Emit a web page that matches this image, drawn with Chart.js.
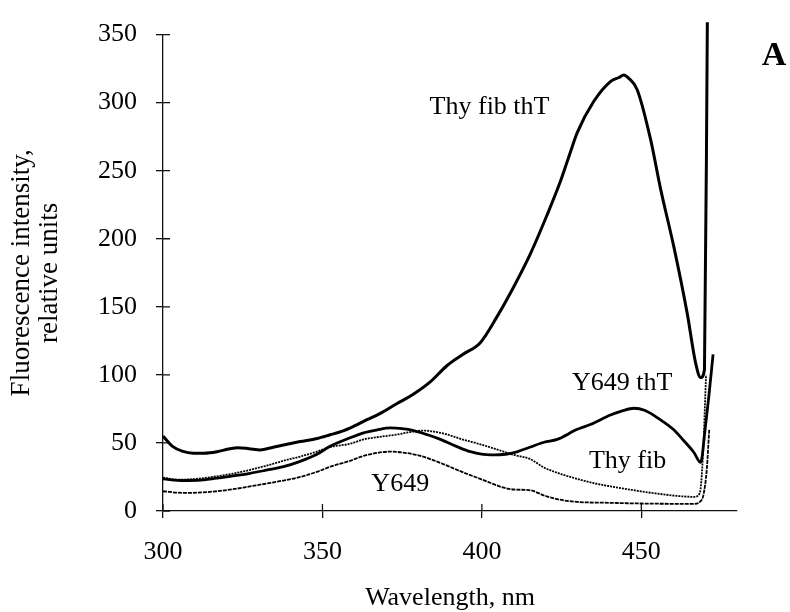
<!DOCTYPE html>
<html>
<head>
<meta charset="utf-8">
<script src="https://cdn.jsdelivr.net/npm/chart.js@4.4.1/dist/chart.umd.min.js"></script>
<style>
  html, body { margin: 0; padding: 0; background: #fff; }
  canvas { display: block; }
</style>
</head>
<body>
<canvas id="myChart" width="790" height="612"></canvas>
<script>
// wavelength (nm), intensity (relative units)
const THY_FIB_THT = [
    [300, 55], [303, 47.5], [306, 44], [309.5, 42.5], [313, 42.5], [317, 43.6],
    [320.5, 45.5], [323.6, 46.5], [327, 45.8], [330.5, 44.9], [334, 46.5],
    [337.8, 48.5], [343, 51], [348.3, 53.3], [352.4, 56], [356, 58.5], [360, 62.5],
    [362.9, 65.8], [368, 71.5], [373.4, 79], [378, 85], [383.8, 94.8], [389.1, 106.9],
    [394, 115], [399.5, 123.7], [404.8, 143], [410, 164.8], [415.2, 188.9],
    [420.5, 217.8], [424.6, 242], [427.8, 264], [429.9, 278], [435.1, 301],
    [440.3, 315.5], [443, 318.5], [444.5, 320.3], [446, 318], [448.7, 309.5],
    [452.9, 273], [456, 237], [460.2, 194], [464.4, 145], [467, 109], [468.6, 98],
    [469.8, 104], [470.7, 359]
];
const Y649_THT = [
    [300, 23.6], [306.3, 22.4], [311, 22.5], [316.9, 24.1], [322, 25.8], [327.3, 27.7],
    [332, 29.8], [337.8, 32.6], [343, 36.5], [348.3, 41.7], [352.4, 47.5], [358.7, 53.8],
    [362.9, 57.4], [367, 59.5], [371.3, 61], [375, 60.5], [378.6, 59.1], [383, 56],
    [387, 52.6], [392, 47.5], [396.4, 43.6], [402.7, 41.2], [407.4, 41.7], [411, 43.5],
    [415.2, 47], [419.5, 50.5], [423.6, 52.6], [429.9, 60], [434, 63.5], [440.3, 70.5],
    [444, 73.5], [447.7, 75.5], [451, 74], [456, 67], [460, 60], [463.4, 51.4],
    [466.5, 43], [468.6, 35.7], [470, 60], [471.2, 85], [472.5, 115]
];
const THY_FIB = [
    [300, 24.5], [305, 23], [310, 23.5], [316.9, 25.5], [322, 27.5], [327.3, 30.2],
    [332, 33], [337.8, 36.9], [343, 40], [348.3, 43.6], [352.4, 47], [358.7, 49.4],
    [362.9, 52.6], [368, 54.5], [373.4, 56.2], [378, 58.2], [381.5, 59.1], [385, 58.3],
    [389.1, 56.2], [394, 52.5], [399.5, 49], [406.9, 43.6], [410, 41.2], [415.2, 38.1],
    [419.4, 32], [425, 27], [429.9, 23.6], [435, 20.5], [440.3, 18.1], [447, 15.5],
    [451, 14], [456, 12.5], [461, 11.1], [466.5, 10.4], [468.3, 13], [469.3, 40],
    [470.3, 100]
];
const Y649 = [
    [300, 14.5], [306.3, 13.3], [311, 13.5], [316.9, 14.5], [322, 16], [327.3, 18.1],
    [332, 20], [337.8, 22.4], [343, 25], [348.3, 28.8], [352.4, 32.5], [358.7, 36.9],
    [362.9, 40.5], [368, 43], [371.3, 43.6], [375, 43], [379.6, 41.2], [384, 38],
    [389.1, 33.3], [394, 28.5], [399.5, 23.6], [406.9, 17.1], [410, 15.8], [415.2, 15.2],
    [419.4, 11.5], [424, 8.5], [429.9, 6.7], [440.3, 6], [450, 5.5], [460, 5.3],
    [466.5, 5.3], [468.5, 7], [469.5, 12], [470.5, 30], [471.3, 60]
];

const X_TICKS = [300, 350, 400, 450];
const Y_TICKS = [0, 50, 100, 150, 200, 250, 300, 350];

// curve labels, anchored in data units (centre x, baseline y)
const LABELS = [
    ["Thy fib thT", 402.4, 291.5],
    ["Y649 thT", 444, 89],
    ["Thy fib", 445.7, 31.5],
    ["Y649", 374.4, 14.5],
];

const SERIF = '"Liberation Serif", "Times New Roman", serif';

function toXY(arr) {
    return arr.map(p => ({x: p[0], y: p[1]}));
}

const innerTicks = {
    id: 'innerTicks',
    afterDraw(chart) {
        const {ctx, chartArea, scales} = chart;
        ctx.save();
        ctx.strokeStyle = '#111';
        ctx.lineWidth = 1.3;
        ctx.beginPath();
        for (let v of X_TICKS) {
            let px = scales.x.getPixelForValue(v);
            ctx.moveTo(px, chartArea.bottom);
            ctx.lineTo(px, chartArea.bottom - 7);
        }
        for (let v of Y_TICKS) {
            let py = scales.y.getPixelForValue(v);
            ctx.moveTo(chartArea.left, py);
            ctx.lineTo(chartArea.left + 7, py);
        }
        ctx.stroke();

        ctx.fillStyle = '#000';
        ctx.font = '26px ' + SERIF;
        ctx.textAlign = 'center';
        ctx.textBaseline = 'alphabetic';
        for (let [text, x, y] of LABELS) {
            ctx.fillText(text, scales.x.getPixelForValue(x), scales.y.getPixelForValue(y));
        }

        ctx.font = 'bold 34px ' + SERIF;
        ctx.fillText("A", chartArea.right + 37, chartArea.top + 30);
        ctx.restore();
    }
};

function line(data, width, dash) {
    return {
        data: toXY(data),
        borderColor: '#000',
        borderWidth: width,
        borderDash: dash,
        pointRadius: 0,
        fill: false,
        tension: 0.3,
        cubicInterpolationMode: 'monotone',
    };
}

const datasets = [
    Object.assign(line(THY_FIB_THT, 3, []), {clip: false}),
    line(Y649_THT, 2.8, []),
    line(THY_FIB, 1.8, [2, 1]),
    line(Y649, 1.8, [4, 1]),
];

const ctx = document.getElementById('myChart').getContext('2d');

new Chart(ctx, {
    type: 'line',
    data: { datasets: datasets },
    plugins: [innerTicks],
    options: {
        responsive: false,
        animation: false,
        events: [],
        layout: { padding: { top: 27, right: 53, bottom: 0, left: 0 } },
        plugins: { legend: { display: false }, tooltip: { enabled: false } },
        scales: {
            x: {
                type: 'linear',
                min: 300,
                max: 480,
                afterFit: s => { s.height = 101; },
                border: { color: '#111', width: 1.3 },
                grid: { drawOnChartArea: false, color: '#111', lineWidth: 1.3, tickLength: 7 },
                ticks: {
                    stepSize: 50,
                    includeBounds: false,
                    color: '#000',
                    padding: 19,
                    maxRotation: 0,
                    font: { family: SERIF, size: 26 },
                },
                title: {
                    display: true,
                    text: 'Wavelength, nm',
                    color: '#000',
                    font: { family: SERIF, size: 26, lineHeight: '28px' },
                    padding: { top: 0, bottom: 0 },
                },
            },
            y: {
                min: 0,
                max: 350,
                afterFit: s => { s.width = 163; },
                border: { color: '#111', width: 1.3 },
                grid: { drawOnChartArea: false, color: '#111', lineWidth: 1.3, tickLength: 7 },
                ticks: {
                    stepSize: 50,
                    color: '#000',
                    padding: 19,
                    font: { family: SERIF, size: 26 },
                },
                title: {
                    display: true,
                    text: ['Fluorescence intensity,', 'relative units'],
                    color: '#000',
                    font: { family: SERIF, size: 27, lineHeight: '28px' },
                    padding: { top: 8, bottom: 0 },
                },
            },
        },
    },
});
</script>
</body>
</html>
